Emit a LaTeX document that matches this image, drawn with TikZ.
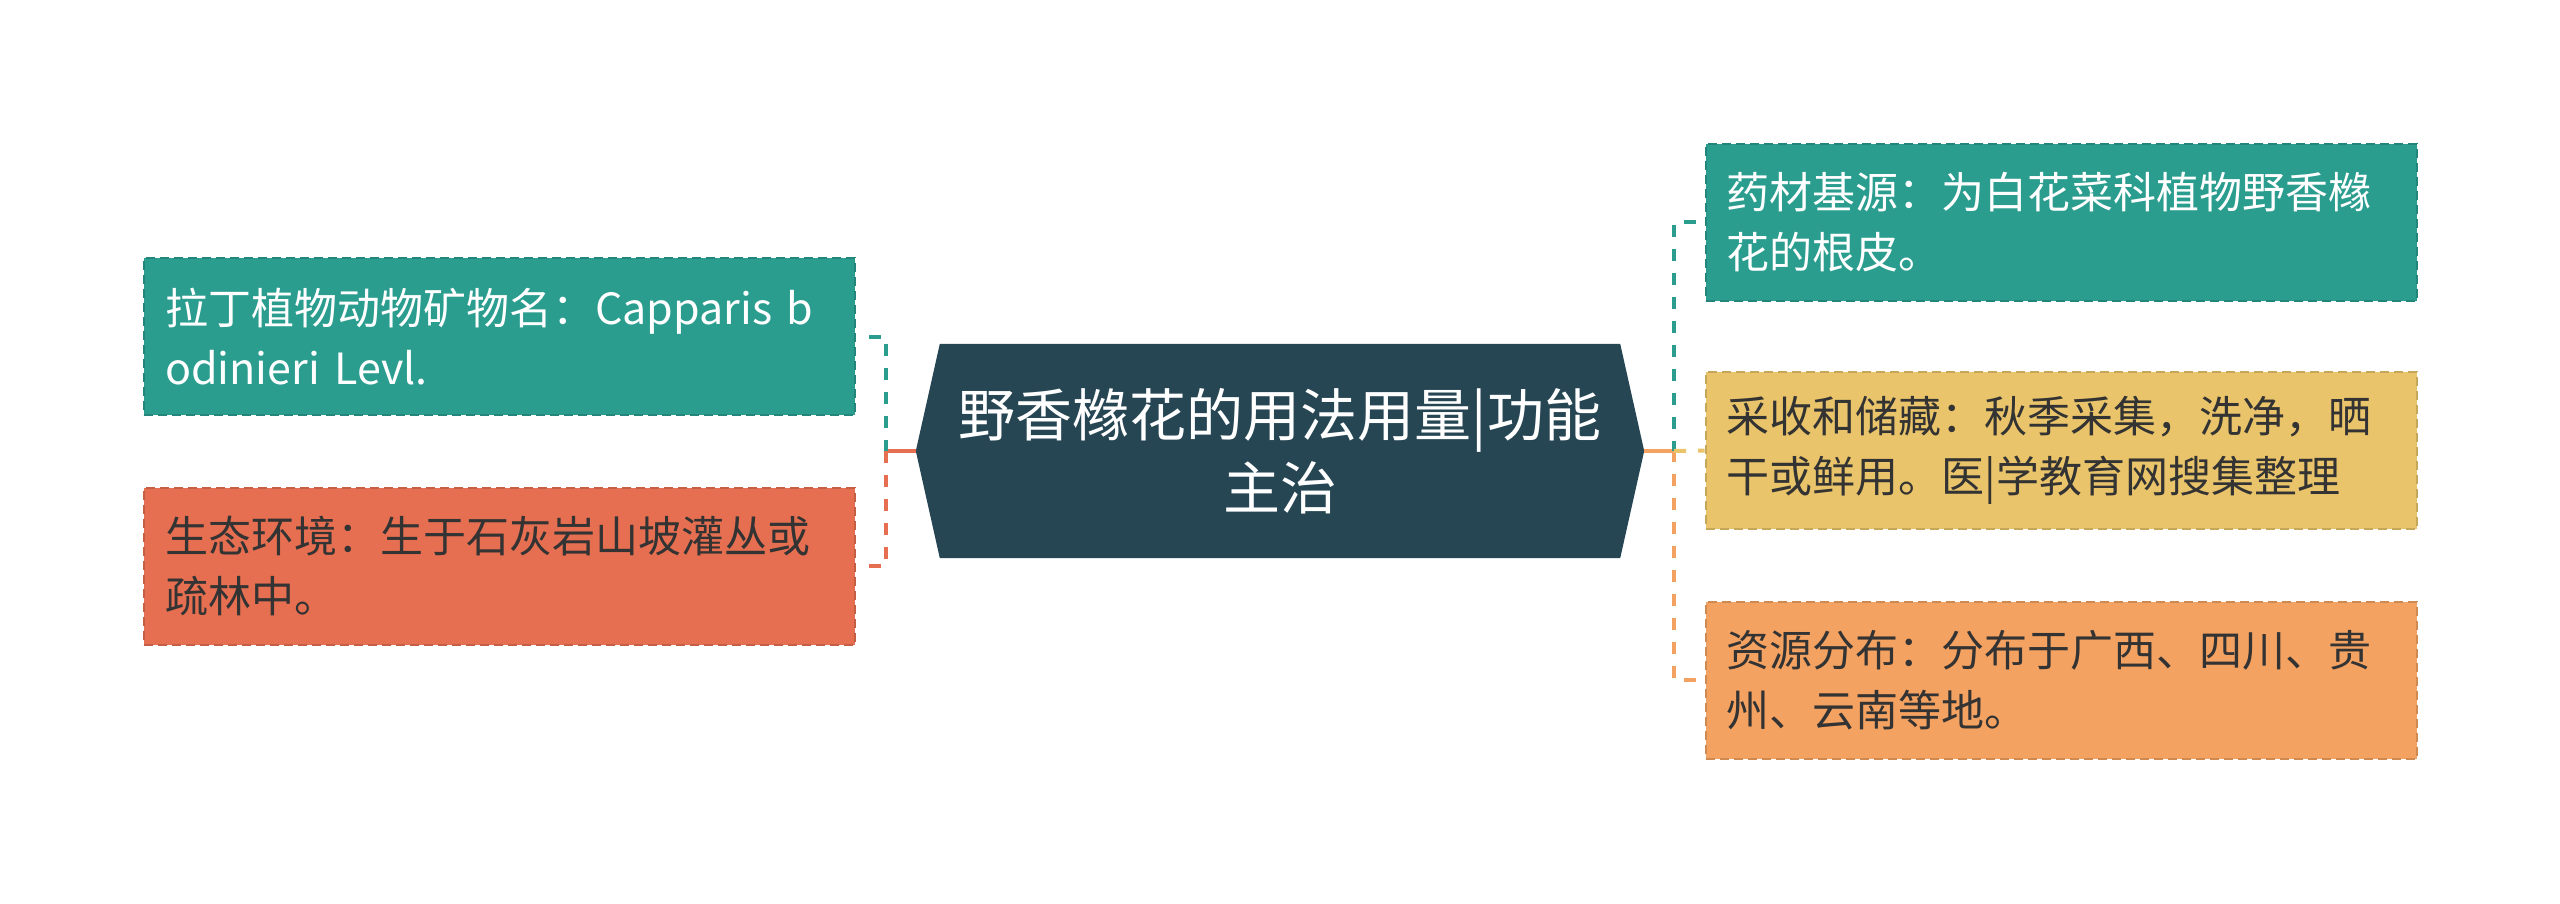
\documentclass[tikz,border=0pt]{standalone}
\usepackage{fontspec}
\setmainfont{Noto Sans CJK SC}
\usetikzlibrary{calc,backgrounds}
\definecolor{cteal}{HTML}{2A9D8F}
\definecolor{cred}{HTML}{E76F51}
\definecolor{cyellow}{HTML}{E9C46A}
\definecolor{corange}{HTML}{F4A261}
\definecolor{cdark}{HTML}{264653}
\definecolor{ctext}{HTML}{333333}
\begin{document}
\begin{tikzpicture}[x=1pt,y=-1pt,
  box/.style={rectangle, line width=2pt, dash pattern=on 9pt off 5pt,
    text width=669pt, inner xsep=21pt, inner ysep=0pt, minimum height=157pt,
    align=left, font=\fontsize{43}{60}\selectfont},
  tealbox/.style={box, fill=cteal, draw=cteal!85!black, text=white},
  redbox/.style={box, fill=cred, draw=cred!85!black, text=ctext},
  yellowbox/.style={box, fill=cyellow, draw=cyellow!85!black, text=ctext},
  orangebox/.style={box, fill=corange, draw=corange!85!black, text=ctext},
  hexnode/.style={rectangle, minimum width=680pt, minimum height=214pt, inner sep=0pt,
    text=white, align=center, font=\fontsize{57}{73}\selectfont},
  conn/.style={line width=4pt, dash pattern=on 12pt off 12pt},
  trunk/.style={line width=4pt}]
\useasboundingbox (0,0) rectangle (2560,903);

\node[hexnode] (c) at (1280,451) {野香橼花的用法用量|功能\\主治};
\begin{scope}[on background layer]
\fill[cdark] (c.north west) -- (c.north east) -- ([xshift=24pt]c.east) -- (c.south east)
  -- (c.south west) -- ([xshift=-24pt]c.west) -- cycle;
\end{scope}

\node[tealbox] (lt) at (499.5,336.5) {拉丁植物动物矿物名：Capparis b\\odinieri Levl.};
\node[redbox] (lr) at (499.5,566) {生态环境：生于石灰岩山坡灌丛或\\疏林中。};

\node[tealbox] (rt) at (2061,222) {药材基源：为白花菜科植物野香橼\\花的根皮。};
\node[yellowbox] (ry) at (2061,450.5) {采收和储藏：秋季采集，洗净，晒\\干或鲜用。医|学教育网搜集整理};
\node[orangebox] (ro) at (2061,680) {资源分布：分布于广西、四川、贵\\州、云南等地。};

\coordinate (lj) at (886,451);
\coordinate (rj) at (1674,451);

\draw[trunk, cred] ([xshift=-24pt]c.west) -- (lj);
\draw[conn, cteal] ([xshift=13pt]lt.east) -| (lj);
\draw[conn, cred] ([xshift=13pt]lr.east) -| (lj);

\draw[trunk, corange] ([xshift=24pt]c.east) -- (rj);
\draw[conn, cteal] ([xshift=-9pt]rt.west) -| (rj);
\draw[conn, corange] ([xshift=-9pt]ro.west) -| (rj);
\draw[conn, cyellow] (rj) -- (ry.west);
\end{tikzpicture}
\end{document}
